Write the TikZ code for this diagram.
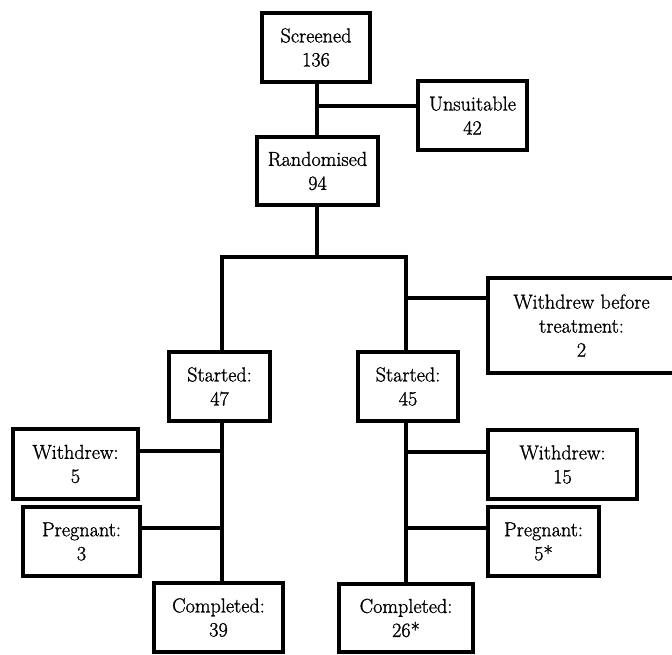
\documentclass[tikz,border=0pt]{standalone}
\usepackage{fontspec}
\newfontfamily\heavyfont{Latin Modern Roman}[FakeBold=1.2]
\begin{document}
\begin{tikzpicture}[x=1pt,y=-1pt,
  box/.style={draw=black, line width=3.5pt, fill=white, align=center, inner sep=0pt,
    font=\heavyfont\fontsize{20.2}{24}\selectfont},
  link/.style={draw=black, line width=3.5pt}]
\useasboundingbox (0,0) rectangle (672,654);
% boxes
\node[box, minimum width=108pt, minimum height=69pt] (scr) at (316,47.5) {Screened\\136};
\node[box, minimum width=109pt, minimum height=69pt] (uns) at (472.5,115.5) {Unsuitable\\42};
\node[box, minimum width=121pt, minimum height=68pt] (rnd) at (317.5,171) {Randomised\\94};
\node[box, minimum width=187pt, minimum height=95pt] (wbt) at (581.5,325.5) {Withdrew before\\treatment:\\2};
\node[box, minimum width=101pt, minimum height=69pt] (stl) at (219.5,386.5) {Started:\\47};
\node[box, minimum width=100pt, minimum height=69pt] (str) at (408,386.5) {Started:\\45};
\node[box, minimum width=125pt, minimum height=70pt] (wdl) at (75.5,464) {Withdrew:\\5};
\node[box, minimum width=117pt, minimum height=69pt] (prl) at (81.5,541.5) {Pregnant:\\3};
\node[box, minimum width=129pt, minimum height=69pt] (cpl) at (218.5,617.5) {Completed:\\39};
\node[box, minimum width=149pt, minimum height=69pt] (wdr) at (562.5,464.5) {Withdrew:\\15};
\node[box, minimum width=111pt, minimum height=69pt] (prr) at (543.5,541.5) {Pregnant:\\5*};
\node[box, minimum width=134pt, minimum height=68pt] (cpr) at (406,618) {Completed:\\26*};
% junctions
\coordinate (j1) at (317,106);
\coordinate (bl) at (222,257);
\coordinate (br) at (406,257);
\coordinate (j2) at (406,298);
\coordinate (jl1) at (222,451);
\coordinate (jl2) at (222,528);
\coordinate (jr1) at (406,452);
\coordinate (jr2) at (406,528);
% connectors
\draw[link] (j1 |- scr.south) -- (j1 |- rnd.north);
\draw[link] (j1) -- (j1 -| uns.west);
\draw[link] (j1 |- rnd.south) -- (j1 |- bl);
\draw[link] (bl |- stl.north) -- (bl) -- (br) -- (br |- str.north);
\draw[link] (j2) -- (j2 -| wbt.west);
\draw[link] (bl |- stl.south) -- (bl |- cpl.north);
\draw[link] (jl1) -- (jl1 -| wdl.east);
\draw[link] (jl2) -- (jl2 -| prl.east);
\draw[link] (br |- str.south) -- (br |- cpr.north);
\draw[link] (jr1) -- (jr1 -| wdr.west);
\draw[link] (jr2) -- (jr2 -| prr.west);
\end{tikzpicture}
\end{document}
